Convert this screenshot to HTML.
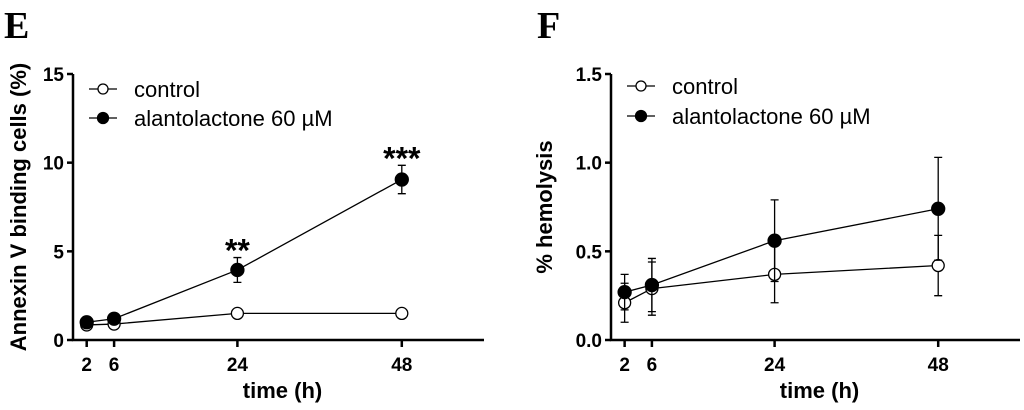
<!DOCTYPE html>
<html><head><meta charset="utf-8"><style>
body{margin:0;background:#fff;}
svg text{font-family:"Liberation Sans",Arial,sans-serif;}
</style></head><body>
<svg id="s" width="1024" height="405" xmlns="http://www.w3.org/2000/svg">
<text x="4" y="38" font-weight="bold" font-size="38" style="font-family:'Liberation Serif',serif">E</text>
<text x="537" y="38" font-weight="bold" font-size="38" style="font-family:'Liberation Serif',serif">F</text>
</svg>
<script>
const times=[2,6,24,48];
const eControl=[0.85,0.9,1.5,1.5];
const eControlErr=[0,0,0,0];
const eAlanto=[1.0,1.2,3.95,9.05];
const eAlantoErr=[0.1,0.1,0.7,0.8];
const eSig=["","","**","***"];
const eTicks=[0,5,10,15];
const eTickLabels=["0","5","10","15"];
const fControl=[0.21,0.29,0.37,0.42];
const fControlErr=[0.11,0.15,0.16,0.17];
const fAlanto=[0.27,0.31,0.56,0.74];
const fAlantoErr=[0.1,0.15,0.23,0.29];
const fTicks=[0,0.5,1.0,1.5];
const fTickLabels=["0.0","0.5","1.0","1.5"];
const xTickLabels=["2","6","24","48"];
const NS="http://www.w3.org/2000/svg";
const svg=document.getElementById('s');
function el(tag,attrs,parent){const e=document.createElementNS(NS,tag);for(const k in attrs)e.setAttribute(k,attrs[k]);(parent||svg).appendChild(e);return e;}
function panel(o){
  const g=el('g',{});
  
  
  const sx=t=>o.x0+(t-0)/60*(o.x1-o.x0);
  const sy=v=>o.yb-(v/o.ymax)*(o.yb-o.yt);
  const ax=el('path',{d:`M${o.x0} ${o.yt} V${o.yb} H${o.x1}`,stroke:'#000','stroke-width':2.5,fill:'none'},g);
  
  
  o.ticks.forEach((v,i)=>{
    el('line',{x1:o.x0-6,x2:o.x0,y1:sy(v),y2:sy(v),stroke:'#000','stroke-width':2.5},g);
    const t=el('text',{x:o.x0-9,y:sy(v)+7,'text-anchor':'end','font-size':19,'font-weight':'bold'},g);
    t.textContent=o.tickLabels[i];
    
    
  });
  times.forEach((tm,i)=>{
    el('line',{x1:sx(tm),x2:sx(tm),y1:o.yb,y2:o.yb+7,stroke:'#000','stroke-width':2.5},g);
    const t=el('text',{x:sx(tm),y:o.yb+31,'text-anchor':'middle','font-size':19,'font-weight':'bold'},g);
    t.textContent=xTickLabels[i];
    
    
  });
  const xt=el('text',{x:(o.x0+o.x1)/2+4,y:398,'text-anchor':'middle','font-size':22,'font-weight':'bold'},g);
  xt.textContent='time (h)';
  
  
  const yt=el('text',{x:0,y:0,'text-anchor':'middle','font-size':22,'font-weight':'bold',transform:`translate(${o.ytx},${o.yty}) rotate(-90)`},g);
  yt.textContent=o.ytitle;
  
  
  o.series.forEach(s=>{
    const ln=el('polyline',{points:times.map((tm,i)=>sx(tm)+','+sy(s.v[i])).join(' '),stroke:'#000','stroke-width':1.3,fill:'none'},g);
    
    
    times.forEach((tm,i)=>{
      if(s.e[i]>0){
        const x=sx(tm),a=sy(s.v[i]+s.e[i]),b=sy(s.v[i]-s.e[i]);
        const eb=el('path',{d:`M${x} ${a}V${b}M${x-4} ${a}H${x+4}M${x-4} ${b}H${x+4}`,stroke:'#000','stroke-width':1.3,fill:'none'},g);
        
        
      }
      const c=el('circle',{cx:sx(tm),cy:sy(s.v[i]),r:s.filled?6.5:6,fill:s.filled?'#000':'#fff',stroke:'#000','stroke-width':1.3},g);
      
      
      if(s.sig&&s.sig[i]){
        const st=el('text',{x:sx(tm),y:sy(s.v[i]+s.e[i])+4,'text-anchor':'middle','font-size':32,'font-weight':'bold'},g);
        st.textContent=s.sig[i];
        
        
      }
    });
  });
  [['control',false,o.ly1],['alantolactone 60 µM',true,o.ly2]].forEach(([lab,f,y])=>{
    const lg=el('g',{},g);
    
    
    el('line',{x1:o.lx,x2:o.lx+28,y1:y,y2:y,stroke:'#000','stroke-width':1.3},lg);
    el('circle',{cx:o.lx+14,cy:y,r:f?5.5:5,fill:f?'#000':'#fff',stroke:'#000','stroke-width':1.3},lg);
    const t=el('text',{x:o.lx+45,y:y+8,'font-size':22},lg);
    t.textContent=lab;
  });
}
panel({name:'annexin-chart',x0:73,x1:484,yt:74,yb:340,ymax:15,ticks:eTicks,tickLabels:eTickLabels,
  ytitle:'Annexin V binding cells (%)',ytx:26,yty:207,lx:89,ly1:89,ly2:118,
  series:[{name:'control',v:eControl,e:eControlErr,filled:false},{name:'alantolactone',v:eAlanto,e:eAlantoErr,filled:true,sig:eSig}]});
panel({name:'hemolysis-chart',x0:611,x1:1020,yt:74,yb:340,ymax:1.5,ticks:fTicks,tickLabels:fTickLabels,
  ytitle:'% hemolysis',ytx:552,yty:207,lx:627,ly1:86,ly2:116,
  series:[{name:'control',v:fControl,e:fControlErr,filled:false},{name:'alantolactone',v:fAlanto,e:fAlantoErr,filled:true}]});
</script>
</body></html>
